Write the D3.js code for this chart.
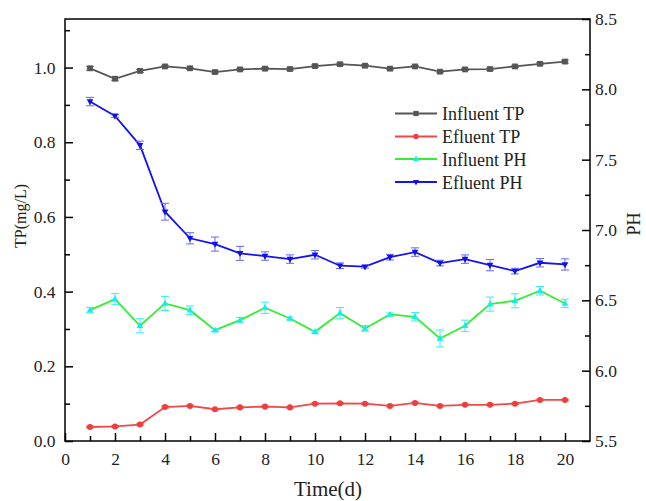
<!DOCTYPE html>
<html><head><meta charset="utf-8">
<script src="https://cdn.jsdelivr.net/npm/d3@7"></script>
<style>body{margin:0;background:#fff;} svg{display:block;}</style>
</head><body>
<svg id="c" width="646" height="501"></svg>
<script>
const days = [1,2,3,4,5,6,7,8,9,10,11,12,13,14,15,16,17,18,19,20];
const influentTP = [0.998,0.970,0.991,1.003,0.998,0.988,0.995,0.997,0.996,1.004,1.009,1.005,0.997,1.003,0.989,0.995,0.996,1.003,1.010,1.016];
const influentTPErr = [0.005,0.004,0.004,0.003,0.003,0.003,0.003,0.003,0.003,0.003,0.003,0.003,0.003,0.003,0.003,0.003,0.003,0.003,0.003,0.004];
const efluentTP = [0.0375,0.039,0.044,0.091,0.094,0.085,0.090,0.092,0.090,0.100,0.101,0.100,0.094,0.102,0.094,0.097,0.097,0.100,0.110,0.110];
const efluentTPErr = [0.002,0.002,0.002,0.003,0.002,0.002,0.002,0.002,0.002,0.002,0.002,0.002,0.002,0.002,0.002,0.002,0.002,0.002,0.002,0.002];
const influentPH = [6.430,6.509,6.319,6.478,6.430,6.288,6.359,6.447,6.371,6.276,6.409,6.300,6.400,6.383,6.229,6.319,6.473,6.497,6.568,6.478];
const influentPHErr = [0.02,0.04,0.05,0.05,0.03,0.01,0.02,0.04,0.01,0.01,0.04,0.02,0.01,0.03,0.06,0.04,0.05,0.05,0.03,0.03];
const efluentPH = [7.913,7.811,7.602,7.130,6.941,6.900,6.834,6.815,6.793,6.824,6.746,6.739,6.807,6.843,6.765,6.793,6.750,6.708,6.767,6.755];
const efluentPHErr = [0.03,0.01,0.03,0.06,0.04,0.05,0.05,0.03,0.03,0.03,0.02,0.01,0.02,0.03,0.02,0.03,0.04,0.02,0.03,0.04];
const xTicks = [0,2,4,6,8,10,12,14,16,18,20];
const leftTicks = [0.0,0.2,0.4,0.6,0.8,1.0];
const rightTicks = [5.5,6.0,6.5,7.0,7.5,8.0,8.5];
const legendLabels = ["Influent TP","Efluent TP","Influent PH","Efluent PH"];

const L=65, R=590, T=19, B=441;
const svg = d3.select("#c");
const font = "'Liberation Serif','Times New Roman',serif";
const x = d3.scaleLinear().domain([0,21]).range([L,R]);
const yL = d3.scaleLinear().domain([0,1.13]).range([B,T]);
const yR = d3.scaleLinear().domain([5.5,8.5]).range([B,T]);

// frame
svg.append("rect").attr("x",L).attr("y",T).attr("width",R-L).attr("height",B-T)
  .attr("fill","none").attr("stroke","#000").attr("stroke-width",1.5);

// bottom axis
svg.append("g").attr("transform",`translate(0,${B})`)
  .call(d3.axisBottom(x).tickValues(xTicks).tickFormat(d3.format("d")).tickSize(-8).tickPadding(12));
svg.append("g").attr("transform",`translate(0,${B})`)
  .call(d3.axisBottom(x).tickValues(d3.range(1,21,2)).tickFormat("").tickSize(-5));
// left axis
svg.append("g").attr("transform",`translate(${L},0)`)
  .call(d3.axisLeft(yL).tickValues(leftTicks).tickFormat(d3.format(".1f")).tickSize(-8).tickPadding(9.5));
svg.append("g").attr("transform",`translate(${L},0)`)
  .call(d3.axisLeft(yL).tickValues([0.1,0.3,0.5,0.7,0.9,1.1]).tickFormat("").tickSize(-5));
// right axis
svg.append("g").attr("transform",`translate(${R},0)`)
  .call(d3.axisRight(yR).tickValues(rightTicks).tickFormat(d3.format(".1f")).tickSize(-8).tickPadding(5));
svg.append("g").attr("transform",`translate(${R},0)`)
  .call(d3.axisRight(yR).tickValues([5.75,6.25,6.75,7.25,7.75,8.25]).tickFormat("").tickSize(-5));
svg.selectAll(".domain").remove();
svg.selectAll(".tick line").attr("stroke","#000").attr("stroke-width",1.5);
svg.selectAll(".tick text").attr("font-family",font).attr("font-size",17.5).attr("fill","#222");

// titles
svg.append("text").attr("x",328).attr("y",496).attr("text-anchor","middle")
  .attr("font-family",font).attr("font-size",21).attr("fill","#222").text("Time(d)");
svg.append("text").attr("transform",`translate(26,216) rotate(-90)`).attr("text-anchor","middle")
  .attr("font-family",font).attr("font-size",16).attr("fill","#222").text("TP(mg/L)");
svg.append("text").attr("transform",`translate(640,224) rotate(-90)`).attr("text-anchor","middle")
  .attr("font-family",font).attr("font-size",18).attr("fill","#222").text("PH");

const series = [
  {v:influentTP,e:influentTPErr,y:yL,line:"#555555",mark:"#555555",err:"#777",shape:"square"},
  {v:efluentTP,e:efluentTPErr,y:yL,line:"#f04848",mark:"#f03c3c",err:"#f06060",shape:"circle"},
  {v:influentPH,e:influentPHErr,y:yR,line:"#33ee33",mark:"#11eeee",err:"#33eeee",shape:"up"},
  {v:efluentPH,e:efluentPHErr,y:yR,line:"#1414f0",mark:"#1010e8",err:"#6666ff",shape:"down"}
];
function markerPath(shape, s){
  if(shape==="square") return `M${-s},${-s}H${s}V${s}H${-s}Z`;
  if(shape==="up") return `M0,${-s*1.3}L${s*1.15},${s*0.8}L${-s*1.15},${s*0.8}Z`;
  if(shape==="down") return `M0,${s*1.3}L${s*1.15},${-s*0.8}L${-s*1.15},${-s*0.8}Z`;
  return d3.symbol().type(d3.symbolCircle).size(s*s*3.4)();
}
series.forEach(s=>{
  const g = svg.append("g");
  const line = d3.line().x((d,i)=>x(days[i])).y(d=>s.y(d));
  g.append("path").datum(s.v).attr("d",line).attr("fill","none").attr("stroke",s.line).attr("stroke-width",1.8);
  const eb = g.selectAll(".eb").data(s.v).enter().append("g");
  eb.append("line").attr("x1",(d,i)=>x(days[i])).attr("x2",(d,i)=>x(days[i]))
    .attr("y1",(d,i)=>s.y(d+s.e[i])).attr("y2",(d,i)=>s.y(d-s.e[i])).attr("stroke",s.err).attr("stroke-width",1);
  [1,-1].forEach(sg=>{
    eb.append("line").attr("x1",(d,i)=>x(days[i])-4).attr("x2",(d,i)=>x(days[i])+4)
      .attr("y1",(d,i)=>s.y(d+sg*s.e[i])).attr("y2",(d,i)=>s.y(d+sg*s.e[i])).attr("stroke",s.err).attr("stroke-width",1);
  });
  g.selectAll(".m").data(s.v).enter().append("path")
    .attr("transform",(d,i)=>`translate(${x(days[i])},${s.y(d)})`)
    .attr("d",markerPath(s.shape,2.9)).attr("fill",s.mark);
});

// legend
const leg = svg.append("g");
const ly = [113.5,136.5,159,182];
series.forEach((s,i)=>{
  leg.append("line").attr("x1",395).attr("x2",437).attr("y1",ly[i]).attr("y2",ly[i]).attr("stroke",s.line).attr("stroke-width",1.8);
  leg.append("path").attr("transform",`translate(416,${ly[i]})`).attr("d",markerPath(s.shape,2.6)).attr("fill",s.mark);
  leg.append("text").attr("x",442).attr("y",ly[i]+6.5).attr("font-family",font).attr("font-size",18)
    .attr("fill","#222").text(legendLabels[i]);
});
</script>
</body></html>
